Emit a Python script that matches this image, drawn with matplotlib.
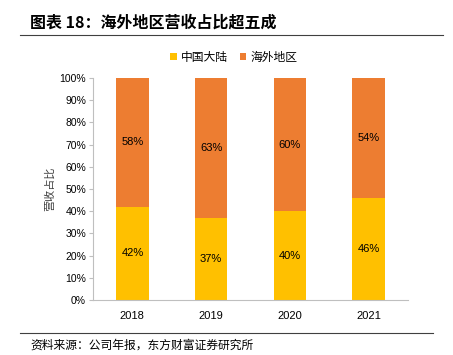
import matplotlib
matplotlib.use("Agg")
import matplotlib.pyplot as plt
import numpy as np

plt.rcParams['font.family'] = ['Noto Sans CJK SC', 'DejaVu Sans']

years = ['2018', '2019', '2020', '2021']
mainland = [42, 37, 40, 46]
overseas = [58, 63, 60, 54]
labels_series = ['中国大陆', '海外地区']
yticks = list(range(0, 101, 10))

fig = plt.figure(figsize=(4.53, 3.55), dpi=100)
ax = fig.add_axes([93/453, 1-300/355, 315/453, 222/355])

x = np.arange(len(years))
c1, c2 = '#FFC000', '#ED7D31'
b1 = ax.bar(x, mainland, width=0.41, color=c1, label=labels_series[0])
b2 = ax.bar(x, overseas, width=0.41, bottom=mainland, color=c2, label=labels_series[1])
for i in range(len(years)):
    ax.text(x[i], mainland[i]/2, f'{mainland[i]}%', ha='center', va='center', fontsize=8, family='Liberation Sans')
    ax.text(x[i], mainland[i] + overseas[i]/2, f'{overseas[i]}%', ha='center', va='center', fontsize=8, family='Liberation Sans')

ax.set_xlim(-0.5, 3.5)
ax.set_ylim(0, 100)
ax.set_yticks(yticks)
ax.set_yticklabels([f'{v}%' for v in yticks], fontsize=7.5, family='Liberation Sans')
ax.set_xticks(x)
ax.set_xticklabels(years, fontsize=8, family='Liberation Sans')
for s in ['top', 'right']:
    ax.spines[s].set_visible(False)
for s in ['left', 'bottom']:
    ax.spines[s].set_color('#BFBFBF')
ax.tick_params(axis='y', length=3, color='#BFBFBF', pad=2)
ax.tick_params(axis='x', length=0, pad=8)
ax.set_ylabel('营收占比', fontsize=8, labelpad=3, color='#404040')

ax.legend(loc='center', bbox_to_anchor=(234/453, 1-57/355), bbox_transform=fig.transFigure,
          ncol=2, frameon=False, fontsize=8.5, handlelength=0.55, handleheight=0.55,
          handletextpad=0.35, columnspacing=1.0)

fig.text(30/453, 1-23/355, '图表 18：海外地区营收占比超五成', fontsize=11.5, fontweight='bold', va='center', ha='left')
fig.add_artist(plt.Line2D([20/453, 443/453], [1-35/355, 1-35/355], color='#404040', lw=0.8))
fig.add_artist(plt.Line2D([20/453, 433/453], [1-333/355, 1-333/355], color='#404040', lw=0.8))
fig.text(30/453, 1-345/355, '资料来源：公司年报，东方财富证券研究所', fontsize=8.5, va='center', ha='left')

fig.savefig('out.png', dpi=100)
